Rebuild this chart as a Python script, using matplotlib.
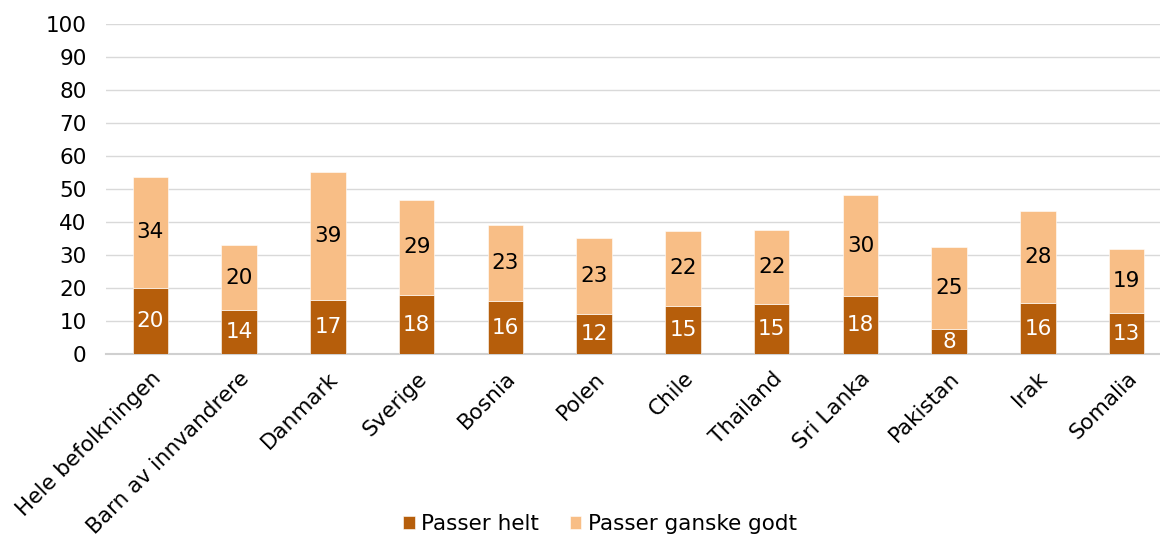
import numpy as np
import matplotlib.pyplot as plt

kategorier = ["Hele befolkningen", "Barn av innvandrere", "Danmark", "Sverige", "Bosnia",
              "Polen", "Chile", "Thailand", "Sri Lanka", "Pakistan", "Irak", "Somalia"]
helt = [20.2, 13.4, 16.4, 18.0, 16.1, 12.2, 14.7, 15.2, 17.7, 7.7, 15.5, 12.5]
ganske = [33.6, 19.7, 38.8, 28.7, 23.0, 23.1, 22.6, 22.5, 30.5, 24.9, 27.8, 19.4]
helt_txt = ["20", "14", "17", "18", "16", "12", "15", "15", "18", "8", "16", "13"]
ganske_txt = ["34", "20", "39", "29", "23", "23", "22", "22", "30", "25", "28", "19"]

mork = "#B65E0B"
lys = "#F8BE86"
fs = 15.5

plt.rcParams['font.family'] = ['DejaVu Sans']
fig = plt.figure(figsize=(11.6, 5.36), dpi=100)
ax = fig.add_axes([0.0914, 0.339, 0.9086, 0.616])

x = np.arange(len(kategorier))
b1 = ax.bar(x, helt, 0.4, color=mork, edgecolor="white", linewidth=0.4, label="Passer helt", zorder=3)
b2 = ax.bar(x, ganske, 0.4, bottom=helt, color=lys, edgecolor="white", linewidth=0.4,
            label="Passer ganske godt", zorder=3)

for i in range(len(x)):
    ax.text(x[i], helt[i] / 2, helt_txt[i], ha="center", va="center", color="white", fontsize=fs, zorder=4)
    ax.text(x[i], helt[i] + ganske[i] / 2, ganske_txt[i], ha="center", va="center", color="black",
            fontsize=fs, zorder=4)

ax.set_ylim(0, 100)
ax.set_yticks(range(0, 101, 10))
ax.set_xlim(-0.5, 11.375)
ax.set_xticks(x)
ax.set_xticklabels(kategorier, rotation=45, ha="right", rotation_mode="anchor", fontsize=fs)
ax.tick_params(axis="y", labelsize=fs, length=0, pad=14)
ax.tick_params(axis="x", length=0, pad=10)
ax.grid(axis="y", color="#d9d9d9", linewidth=1, zorder=0)
for s in ["top", "right", "left"]:
    ax.spines[s].set_visible(False)
ax.spines["bottom"].set_color("#d0d0d0")
ax.spines["bottom"].set_linewidth(1.5)

fig.legend(handles=[b1, b2], loc="center", bbox_to_anchor=(600 / 1160, 1 - 524 / 536), ncol=2,
           frameon=False, fontsize=fs, handlelength=0.55, handleheight=0.55, handletextpad=0.3,
           columnspacing=1.4)

fig.savefig("out.png", dpi=100)
